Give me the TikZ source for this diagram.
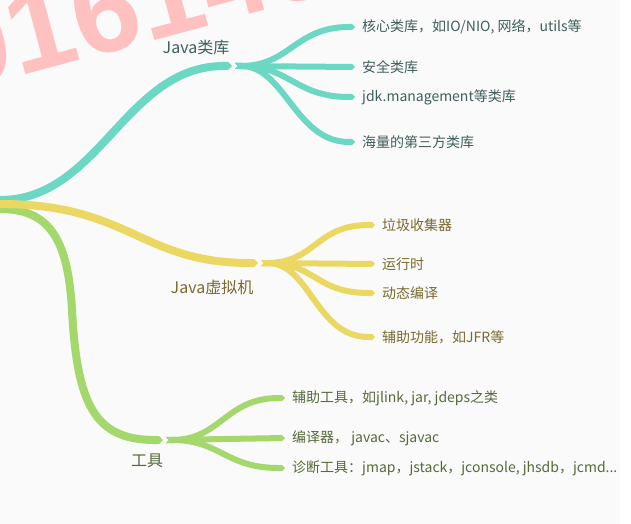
\documentclass[tikz,border=0pt]{standalone}
\usepackage{fontspec}
\setmainfont{Noto Sans CJK SC}
\newfontfamily\markfont{Liberation Sans}
\usepackage{tikz}
\usetikzlibrary{arrows.meta,positioning}

\definecolor{libteal}{HTML}{6CD8C4}
\definecolor{jvmyellow}{HTML}{EBD862}
\definecolor{toolgreen}{HTML}{A4D86C}
\definecolor{libtext}{HTML}{3F5F5C}
\definecolor{jvmtext}{HTML}{7A6A2E}
\definecolor{tooltext}{HTML}{556B3A}
\definecolor{markpink}{HTML}{FFC0C0}
\definecolor{paper}{HTML}{FAFAFA}

\begin{document}
\begin{tikzpicture}[
    x=1bp, y=-1bp,
    node distance=0bp and 7bp,
    trunk/.style={line width=8bp, -{Triangle Cap}},
    twig/.style={line width=6bp, {Triangle Cap[reversed]}-{Triangle Cap}},
    leaf/.style={inner sep=0pt, font=\fontsize{14bp}{16bp}\selectfont},
    topic/.style={inner sep=0pt, font=\fontsize{16bp}{18bp}\selectfont}
  ]
    \fill[paper] (0,0) rectangle (620,524);
    \fill[white] (620,0) rectangle (631,524);
    \useasboundingbox (0,0) rectangle (631,524);

    % watermark
    \begin{scope}
      \clip (0,0) rectangle (631,524);
      \node[text=markpink, anchor=base west, rotate=15, inner sep=0pt,
            font=\markfont\bfseries\fontsize{120bp}{120bp}\selectfont] (mark) at (-46,94) {9161456};
    \end{scope}

    % trunks
    \coordinate (root) at (0,204);
    \coordinate (lib) at (232,66);
    \coordinate (jvm) at (258,263);
    \coordinate (tools) at (163,440);

    \draw[trunk, libteal] ([yshift=4bp]root) .. controls (100,200) and (125,66) .. (lib);
    \draw[trunk, toolgreen] ([yshift=-5bp]root) .. controls (50,209) and (68,240) .. (72,310)
        .. controls (77,405) and (95,440) .. (tools);
    \draw[trunk, jvmyellow] (root) .. controls (130,204) and (140,263) .. (jvm);

    \node[topic, text=libtext] (libname) at (196,47) {Java类库};
    \node[topic, text=jvmtext] (jvmname) at (212,287) {Java虚拟机};
    \node[topic, text=tooltext] (toolsname) at (147,461) {工具};

    % Java class libraries
    \coordinate (libfork) at (235,66);
    \coordinate (lib1) at (355,27);
    \coordinate (lib2) at (355,67);
    \coordinate (lib3) at (355,97);
    \coordinate (lib4) at (355,142);
    \draw[twig, libteal] (libfork) .. controls +(55,0) and +(-60,0) .. (lib1);
    \draw[twig, libteal] (libfork) -- (lib2);
    \draw[twig, libteal] (libfork) .. controls +(55,0) and +(-60,0) .. (lib3);
    \draw[twig, libteal] (libfork) .. controls +(50,0) and +(-60,0) .. (lib4);
    \node[leaf, text=libtext, right=of lib1] (core) {核心类库，如IO/NIO, 网络，utils等};
    \node[leaf, text=libtext, right=of lib2] (security) {安全类库};
    \node[leaf, text=libtext, right=of lib3] (mgmt) {jdk.management等类库};
    \node[leaf, text=libtext, right=of lib4] (thirdparty) {海量的第三方类库};

    % JVM
    \coordinate (jvmfork) at (261,263);
    \coordinate (jvm1) at (375,225);
    \coordinate (jvm2) at (375,264);
    \coordinate (jvm3) at (375,293);
    \coordinate (jvm4) at (375,337);
    \draw[twig, jvmyellow] (jvmfork) .. controls +(55,0) and +(-60,0) .. (jvm1);
    \draw[twig, jvmyellow] (jvmfork) -- (jvm2);
    \draw[twig, jvmyellow] (jvmfork) .. controls +(55,0) and +(-60,0) .. (jvm3);
    \draw[twig, jvmyellow] (jvmfork) .. controls +(50,0) and +(-60,0) .. (jvm4);
    \node[leaf, text=jvmtext, right=of jvm1] (gc) {垃圾收集器};
    \node[leaf, text=jvmtext, right=of jvm2] (runtime) {运行时};
    \node[leaf, text=jvmtext, right=of jvm3] (jit) {动态编译};
    \node[leaf, text=jvmtext, right=of jvm4] (jfr) {辅助功能，如JFR等};

    % tools
    \coordinate (toolfork) at (166,440);
    \coordinate (tool1) at (285,398);
    \coordinate (tool2) at (285,438);
    \coordinate (tool3) at (285,468);
    \draw[twig, toolgreen] (toolfork) .. controls +(55,0) and +(-60,0) .. (tool1);
    \draw[twig, toolgreen] (toolfork) -- (tool2);
    \draw[twig, toolgreen] (toolfork) .. controls +(55,0) and +(-60,0) .. (tool3);
    \node[leaf, text=tooltext, right=of tool1] (helper) {辅助工具，如jlink, jar, jdeps之类};
    \node[leaf, text=tooltext, right=of tool2] (compiler) {编译器， javac、sjavac};
    \node[leaf, text=tooltext, right=of tool3] (diag) {诊断工具：jmap，jstack，jconsole, jhsdb，jcmd...};
  \end{tikzpicture}
\end{document}
